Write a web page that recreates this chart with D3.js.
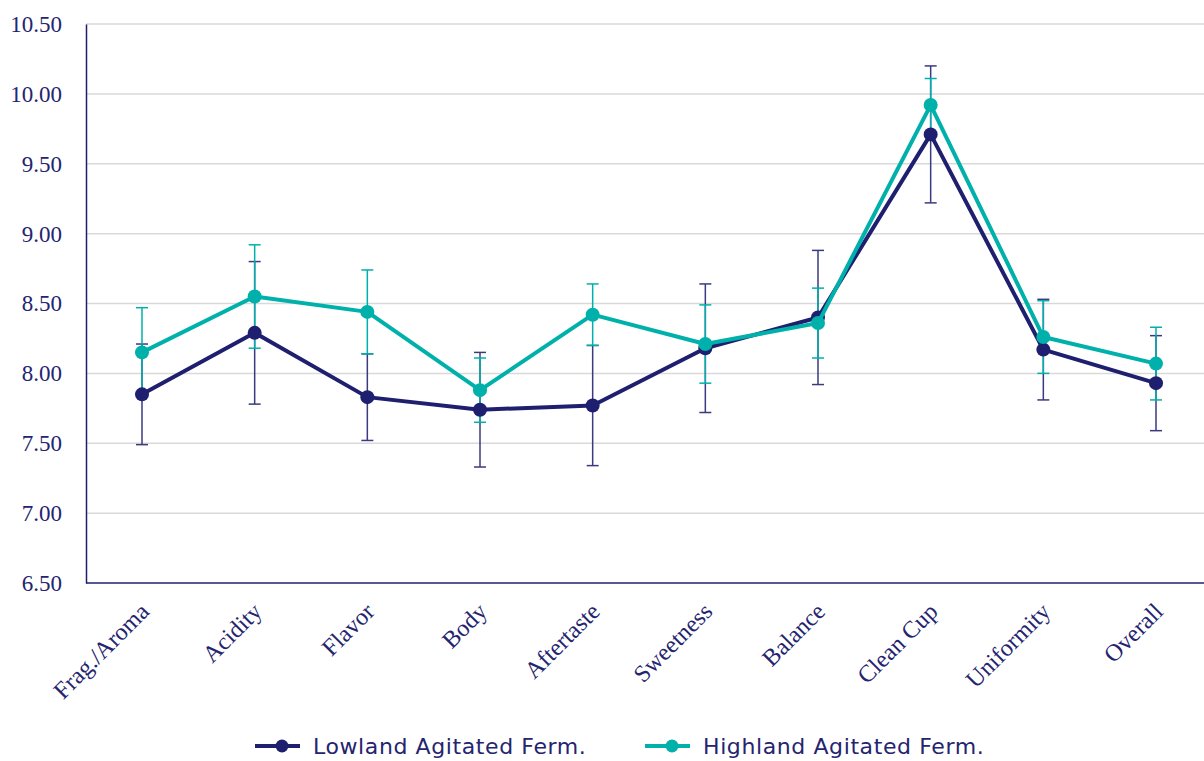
<!DOCTYPE html>
<html lang="en">
	<head>
		<meta charset="utf-8">
		<title>Cupping scores</title>
		<script type="text/javascript" src="https://cdnjs.cloudflare.com/ajax/libs/d3/7.8.5/d3.min.js"></script>
		<style>
			body { margin: 0; background: #fff; }
			svg { display: block; }
		</style>
	</head>
	<body>
		<div id="chart"></div>
		<script type="text/javascript">

// data
var categories = ["Frag./Aroma", "Acidity", "Flavor", "Body", "Aftertaste", "Sweetness", "Balance", "Clean Cup", "Uniformity", "Overall"];
var lowland = [7.85, 8.29, 7.83, 7.74, 7.77, 8.18, 8.40, 9.71, 8.17, 7.93];
var lowlandErr = [0.36, 0.51, 0.31, 0.41, 0.43, 0.46, 0.48, 0.49, 0.36, 0.34];
var highland = [8.15, 8.55, 8.44, 7.88, 8.42, 8.21, 8.36, 9.92, 8.26, 8.07];
var highlandErr = [0.32, 0.37, 0.30, 0.23, 0.22, 0.28, 0.25, 0.19, 0.26, 0.26];
var yTicks = [6.5, 7.0, 7.5, 8.0, 8.5, 9.0, 9.5, 10.0, 10.5];
var seriesNames = ["Lowland Agitated Ferm.", "Highland Agitated Ferm."];

var w = 1204, h = 761;
var margin = {top: 24, right: 0, bottom: 178, left: 86};

var navy = "#1f1f6f";
var teal = "#00b1ab";
var textColor = "#24246f";

var svg = d3.select("#chart")
	.append("svg")
	.attr("width", w)
	.attr("height", h);

var y = d3.scaleLinear()
	.domain([6.5, 10.5])
	.range([h - margin.bottom, margin.top]);

var x = d3.scalePoint()
	.domain(categories)
	.range([142, 1156]);

// gridlines
svg.append("g")
	.selectAll("line")
	.data(yTicks.slice(1))
	.enter()
	.append("line")
	.attr("x1", margin.left)
	.attr("x2", w)
	.attr("y1", function(d) { return y(d); })
	.attr("y2", function(d) { return y(d); })
	.attr("stroke", "#d9d9d9")
	.attr("stroke-width", 1.5);

// y axis
var yAxis = d3.axisLeft(y)
	.tickValues(yTicks)
	.tickSize(0)
	.tickPadding(24)
	.tickFormat(d3.format(".2f"));

var gy = svg.append("g")
	.attr("transform", "translate(" + margin.left + ",0)")
	.call(yAxis);
gy.select(".domain").attr("stroke", navy).attr("stroke-width", 1.5);
gy.selectAll("text")
	.attr("fill", textColor)
	.style("font-family", "'Liberation Serif', 'DejaVu Serif', serif")
	.style("font-size", "23px");

// x axis
var xAxis = d3.axisBottom(x).tickSize(0).tickPadding(0);
var gx = svg.append("g")
	.attr("transform", "translate(0," + y(6.5) + ")")
	.call(xAxis);
gx.select(".domain").remove();
gx.append("line")
	.attr("x1", margin.left)
	.attr("x2", w)
	.attr("stroke", navy)
	.attr("stroke-width", 1.5);
gx.selectAll("text")
	.attr("fill", textColor)
	.attr("y", 0)
	.attr("dy", 0)
	.attr("text-anchor", "end")
	.attr("transform", "translate(8,30) rotate(-45)")
	.style("font-family", "'Liberation Serif', 'DejaVu Serif', serif")
	.style("font-size", "24px");

function drawErrors(vals, errs, color) {
	var g = svg.append("g")
		.attr("stroke", color)
		.attr("stroke-width", 1.5);
	vals.forEach(function(v, i) {
		var cx = x(categories[i]);
		g.append("line")
			.attr("x1", cx).attr("x2", cx)
			.attr("y1", y(v + errs[i])).attr("y2", y(v - errs[i]));
		[v + errs[i], v - errs[i]].forEach(function(e) {
			g.append("line")
				.attr("x1", cx - 6).attr("x2", cx + 6)
				.attr("y1", y(e)).attr("y2", y(e));
		});
	});
}

var line = d3.line()
	.x(function(d, i) { return x(categories[i]); })
	.y(function(d) { return y(d); });

function drawSeries(vals, color) {
	svg.append("path")
		.datum(vals)
		.attr("d", line)
		.attr("fill", "none")
		.attr("stroke", color)
		.attr("stroke-width", 4)
		.attr("stroke-linejoin", "round");
	svg.append("g")
		.selectAll("circle")
		.data(vals)
		.enter()
		.append("circle")
		.attr("cx", function(d, i) { return x(categories[i]); })
		.attr("cy", function(d) { return y(d); })
		.attr("r", 7)
		.attr("fill", color);
}

drawErrors(lowland, lowlandErr, "#3a3a80");
drawErrors(highland, highlandErr, teal);
drawSeries(lowland, navy);
drawSeries(highland, teal);

// legend
var legend = svg.append("g")
	.attr("transform", "translate(0,746)");
var legendX = [255, 645];
var legendColors = [navy, teal];
seriesNames.forEach(function(name, i) {
	var lg = legend.append("g").attr("transform", "translate(" + legendX[i] + ",0)");
	lg.append("line")
		.attr("x1", 0).attr("x2", 45)
		.attr("stroke", legendColors[i])
		.attr("stroke-width", 4);
	lg.append("circle")
		.attr("cx", 27).attr("r", 6.5)
		.attr("fill", legendColors[i]);
	lg.append("text")
		.attr("x", 58)
		.attr("dy", "0.36em")
		.attr("fill", textColor)
		.style("font-family", "'DejaVu Sans', sans-serif")
		.style("font-size", "22px")
		.style("letter-spacing", "0.6px")
		.text(name);
});

		</script>
	</body>
</html>
